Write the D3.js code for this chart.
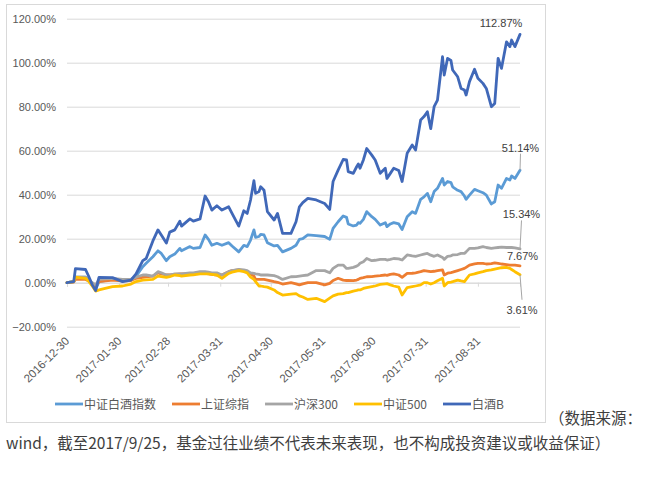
<!DOCTYPE html>
<html>
<head>
<meta charset="utf-8">
<script src="https://cdn.jsdelivr.net/npm/d3@7"></script>
<style>
  html, body { margin: 0; padding: 0; background: #ffffff; }
  svg { display: block; }
</style>
</head>
<body>
<svg id="chart" width="672" height="478"></svg>
<script>
const dates = [
  "2016-12-30","2017-01-03","2017-01-04","2017-01-10","2017-01-12","2017-01-14","2017-01-16","2017-01-18","2017-01-26","2017-02-01",
  "2017-02-06","2017-02-09","2017-02-13","2017-02-15","2017-02-19","2017-02-22","2017-02-24","2017-02-27","2017-03-01","2017-03-04",
  "2017-03-07","2017-03-08","2017-03-13","2017-03-15","2017-03-19","2017-03-22","2017-03-24","2017-03-26","2017-03-29","2017-04-01",
  "2017-04-05","2017-04-07","2017-04-11","2017-04-14","2017-04-16","2017-04-18","2017-04-20","2017-04-21","2017-04-23","2017-04-24",
  "2017-04-26","2017-04-28","2017-05-02","2017-05-04","2017-05-07","2017-05-12","2017-05-15","2017-05-17","2017-05-19","2017-05-22",
  "2017-05-27","2017-06-01","2017-06-04","2017-06-06","2017-06-09","2017-06-12","2017-06-14","2017-06-15","2017-06-18","2017-06-20",
  "2017-06-21","2017-06-22","2017-06-24","2017-06-26","2017-06-29","2017-07-01","2017-07-04","2017-07-07","2017-07-08","2017-07-10",
  "2017-07-12","2017-07-15","2017-07-17","2017-07-20","2017-07-23","2017-07-25","2017-07-28","2017-07-30","2017-08-01","2017-08-03",
  "2017-08-05","2017-08-07","2017-08-10","2017-08-11","2017-08-13","2017-08-15","2017-08-16","2017-08-19","2017-08-21","2017-08-23",
  "2017-08-24","2017-08-26","2017-08-29","2017-08-31","2017-09-03","2017-09-05","2017-09-08","2017-09-10","2017-09-12","2017-09-14",
  "2017-09-17","2017-09-19","2017-09-20","2017-09-22","2017-09-25"
];

// 中证白酒指数
const baijiuIndexValues = [
  0,0.5,2.5,2.5,1.5,-1,-3,0.5,1.5,0.8,
  1.5,3,7.3,8.8,11.8,14.5,13.3,10,11.8,13,
  15.6,14.5,16.4,15.6,16,21.7,19.7,17,17.9,17,
  18.2,16.7,14,17,16.4,19.4,24,20.6,21,22,
  21.7,18.2,16.7,17,14,15.6,17,19.7,20,21.7,
  21.4,21,19.7,24.7,27.7,30.3,29.7,26.7,25.8,26.2,
  27.3,27,28.8,32.3,30,28.8,26.2,27.3,25.5,26.7,
  27.3,26.7,24.2,30,32.3,31.5,37.9,39,40.6,36.8,
  41.4,42.9,47.4,44.4,46,45.5,43.6,42,41.4,39.4,
  37.9,39.8,42.4,41.8,40.9,39.8,35.8,36.8,44.4,42.9,
  47.4,46.7,48.5,47.4,51.14
];
// 上证综指
const shCompositeValues = [
  0,0.3,1.5,1.5,0.8,-0.5,-1.5,0.5,1.2,0.8,
  1,2,2.4,2.6,3,4.5,4,3.5,3.5,3.8,
  4,4,4,4,4.2,4.2,4,3.8,3.5,3.5,
  5,5.5,5.8,5.5,5,4,3,1.5,1.5,1.5,
  1.5,1.2,0.5,0.2,-0.6,0,-0.5,-1,-0.5,0,
  0,-1,-0.3,1,2,1.2,1,1,0.9,1.2,
  1.5,2,2.3,2.7,2.8,3,3.2,3.5,3.3,3.8,
  4,3.5,2.4,4.2,4.3,4.5,5,5.5,5.3,5,
  5.2,5.5,5.8,3.5,4.3,4.6,4.8,5.5,6,6.5,
  7,8,8.6,8.8,8.8,8.5,8.7,9,8.8,8.5,
  8.2,8,8,8,7.67
];
// 沪深300
const hs300Values = [
  0,0.5,2.5,2.5,1.5,0,-1,1.5,2,1.5,
  1.5,2.5,3.5,3.5,3,5,4.5,3.5,3.5,4,
  4,4,4.5,4.5,5,5,4.8,4.5,4.5,3.5,
  5,5.5,6,5.8,5.5,4.5,4.2,4,3.8,3.5,
  3.5,3.5,3.2,2.7,1.5,2.7,2.8,3,3.2,3.5,
  5.5,5.5,4.5,6.5,8,8,6.5,6.5,7,7.5,
  8,8.8,9.5,11,10,10.2,10.6,10.6,10.3,10.6,
  11,10.8,10.3,12.6,12.2,12,12.6,13,13.3,12.5,
  12,12.6,11.5,10.6,12,12.2,12.6,12.8,13.3,13.3,
  14,15.6,15.6,15.8,16.4,16,15.6,15.8,16,16.2,
  16,16,16,15.8,15.34
];
// 中证500
const csi500Values = [
  0,0.5,2.5,2,0.5,-1.5,-3.8,-3.3,-1.8,-1.5,
  -0.6,0.5,1.2,1.3,1.5,3,2.8,2.4,2.8,3.5,
  3.2,3,3.5,3.6,4,4,4,3.8,3.5,2,
  4.2,4.8,5.5,5,4.5,2.5,1.5,0.5,-1.5,-1.5,
  -1.8,-2,-3.3,-4.5,-5.6,-5.2,-5,-6,-6.5,-7.6,
  -7.1,-8.6,-7,-6,-5.2,-5,-4.5,-4.5,-3.8,-3.5,
  -3.3,-3.3,-2.6,-2.2,-1.8,-1.5,-0.8,-0.5,-0.4,-1,
  -1.5,-2,-5.6,-2.2,-1.8,-1.5,-1,0,0,-0.6,
  0,0.9,2,-1.5,0,0.3,0.5,1.2,0.8,0.5,
  1.5,3.5,4,4.5,5,5.5,5.8,6.2,6.5,6.8,
  7,6.5,6,5,3.61
];
// 白酒B
const baijiuBValues = [
  0,0.5,6.4,6,2.7,-1,-3.6,2.4,2.3,0.5,
  1.2,4,10,11,19,24,21.7,18,23,24,
  28,25.7,29,28,29,39.4,36.8,33,35,33,
  34.5,31.5,25.7,32.7,31.5,37.6,46.4,40.6,41.4,43.6,
  42,32.3,28.5,31.5,22.4,22.4,27.7,34.5,36.4,38.3,
  37.6,36,33.3,46,51.2,56,55.8,50.5,49.7,52.7,
  54,52,55.8,61,58,55.8,49.7,52,47.4,49.7,
  52,51,46,58.8,62.6,60.3,74,75.5,77.7,70,
  80,83,102.7,94.4,102,101,96.7,93.6,88.3,87.6,
  85.3,91.4,97,92.9,90.6,88.3,80,81.5,102,97.4,
  109.5,107.3,110.3,107.3,112.87
];

const seriesNames = ["中证白酒指数", "上证综指", "沪深300", "中证500", "白酒B"];
const seriesColors = ["#5B9BD5", "#ED7D31", "#A5A5A5", "#FFC000", "#4068B8"];
const yTickValues = [-20, 0, 20, 40, 60, 80, 100, 120];
const xTickLabels = ["2016-12-30","2017-01-30","2017-02-28","2017-03-31","2017-04-30","2017-05-31","2017-06-30","2017-07-31","2017-08-31"];
const sourceLine1 = "（数据来源：";
const sourceLine2 = "wind，截至2017/9/25，基金过往业绩不代表未来表现，也不构成投资建议或收益保证）";

const allValues = [baijiuIndexValues, shCompositeValues, hs300Values, csi500Values, baijiuBValues];
const parse = d3.utcParse("%Y-%m-%d");
const series = seriesNames.map((name, i) => ({
  name, color: seriesColors[i],
  points: dates.map((d, j) => ({ date: parse(d), value: allValues[i][j] }))
}));

const svg = d3.select("#chart");
const latinFont = "'Liberation Sans', Arial, sans-serif";
const cjkFont = "'Noto Sans CJK SC', 'Microsoft YaHei', sans-serif";

// chart frame
svg.append("rect").attr("x", 6.5).attr("y", 4.5).attr("width", 539).attr("height", 418)
  .attr("fill", "#fff").attr("stroke", "#d9d9d9").attr("stroke-width", 1);

const x = d3.scaleUtc().domain([parse("2016-12-30"), parse("2017-09-25")]).range([67, 520]);
const y = d3.scaleLinear().domain([-20, 120]).range([326.7, 18.7]);

// gridlines + y labels
const yAxis = d3.axisLeft(y).tickValues(yTickValues).tickSize(-(520 - 67)).tickPadding(11)
  .tickFormat(v => d3.format(".2f")(v) + "%");
const gy = svg.append("g").attr("transform", "translate(67,0)").call(yAxis);
gy.select(".domain").remove();
gy.selectAll(".tick line").attr("stroke", "#d9d9d9").attr("stroke-width", 1);
gy.selectAll(".tick text").attr("fill", "#595959").attr("font-size", 11).attr("font-family", latinFont);

// category axis along 0 line with tick marks
const xAxis = d3.axisBottom(x).tickValues(xTickLabels.map(parse)).tickSize(4).tickFormat("");
const gx = svg.append("g").attr("transform", `translate(0,${y(0)})`).call(xAxis);
gx.select(".domain").attr("stroke", "#d9d9d9");
gx.selectAll(".tick line").attr("stroke", "#d9d9d9");

// rotated x labels at the bottom
svg.append("g").selectAll("text").data(xTickLabels).join("text")
  .attr("transform", d => `translate(${x(parse(d)) + 3},${y(-20) + 15}) rotate(-45)`)
  .attr("text-anchor", "end")
  .attr("font-size", 11.5).attr("font-family", latinFont).attr("fill", "#595959")
  .text(d => d);

// lines
const line = d3.line().x(d => x(d.date)).y(d => y(d.value)).curve(d3.curveLinear);
svg.append("g").selectAll("path").data(series).join("path")
  .attr("d", d => line(d.points))
  .attr("fill", "none").attr("stroke", d => d.color).attr("stroke-width", 2.8)
  .attr("stroke-linejoin", "round").attr("stroke-linecap", "round");

// end labels
const fmtPct = v => d3.format(".2f")(v) + "%";
const endInfo = series.map(s => { const p = s.points[s.points.length - 1]; return { v: p.value, ex: x(p.date), ey: y(p.value) }; });
// [index, label center x offset, label center y offset, leader?]
const labelPlacement = [
  [0, 0.5, -22.5, true],
  [1, 2.5, -10, false],
  [2, 1.5, -34.5, true],
  [3, 2, 35, true],
  [4, -19, -11.7, false]
];
const gl = svg.append("g");
labelPlacement.forEach(([i, dx, dy, leader]) => {
  const e = endInfo[i];
  const cx = e.ex + dx, cy = e.ey + dy;
  if (leader) {
    const ly = dy < 0 ? cy + 6 : cy - 10;
    gl.append("line").attr("x1", e.ex).attr("y1", e.ey).attr("x2", cx).attr("y2", ly)
      .attr("stroke", "#a6a6a6").attr("stroke-width", 1);
  }
  gl.append("text").attr("x", cx).attr("y", cy + 4).attr("text-anchor", "middle")
    .attr("font-size", 11).attr("font-family", latinFont).attr("fill", "#404040")
    .text(fmtPct(e.v));
});

// legend
const lg = svg.append("g").attr("transform", "translate(0,404)");
let lx = 55;
series.forEach(s => {
  lg.append("line").attr("x1", lx).attr("x2", lx + 28).attr("y1", 0).attr("y2", 0)
    .attr("stroke", s.color).attr("stroke-width", 2.8);
  const t = lg.append("text").attr("x", lx + 29).attr("y", 4.5)
    .attr("font-size", 12).attr("font-family", cjkFont).attr("fill", "#595959").text(s.name);
  lx += 29 + t.node().getComputedTextLength() + 16;
});

// source note
svg.append("text").attr("x", 549).attr("y", 424).attr("font-size", 15.5)
  .attr("font-family", cjkFont).attr("fill", "#3e3e3e").text(sourceLine1);
svg.append("text").attr("x", 6).attr("y", 449).attr("font-size", 15.5)
  .attr("font-family", cjkFont).attr("fill", "#3e3e3e").text(sourceLine2);
</script>
</body>
</html>
